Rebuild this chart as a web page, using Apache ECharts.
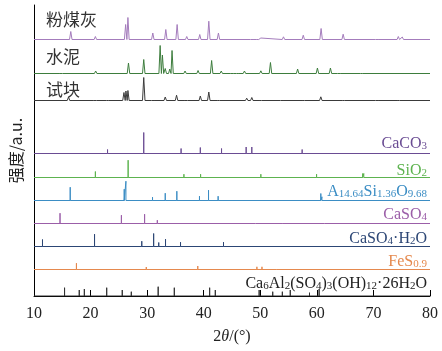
<!DOCTYPE html>
<html>
<head>
<meta charset="utf-8">
<script src="https://cdn.jsdelivr.net/npm/echarts@6/dist/echarts.min.js"></script>
<style>
  html, body { margin: 0; padding: 0; background: #fff; }
  #chart { width: 442px; height: 351px; }
</style>
</head>
<body>
<div id="chart"></div>
<script>
// 数据：[2θ, 峰高]
const xTicks = [10, 20, 30, 40, 50, 60, 70, 80];

const flyAshPeaks = [[16.5, 8], [20.85, 3], [26.2, 15], [26.6, 22], [31.0, 6.5], [33.3, 10], [35.3, 15],
  [37.0, 3], [39.3, 5], [40.9, 18.3], [42.6, 6.5], [48.5, 1], [49.5, 2], [50.1, 1.5], [54.1, 2.7],
  [57.6, 4.3], [60.75, 11], [64.65, 5.3], [70.6, 2], [74.4, 3], [75.1, 2.5]];
const cementPeaks = [[14.8, 1], [20.9, 2.5], [26.7, 10.5], [29.4, 14], [32.3, 28], [32.7, 18.5], [33.2, 5],
  [34.0, 4.5], [34.4, 23], [36.7, 2.5], [39.0, 3], [41.4, 13], [43.1, 2.5], [45.0, 1.5], [46.0, 2],
  [47.2, 2.5], [50.1, 2.7], [51.8, 11], [56.6, 4.5], [60.1, 5.5], [62.4, 5.5], [63.9, 2], [67.9, 1]];
const specimenPeaks = [[16.1, 3.5], [16.5, 2], [20.8, 2], [23.0, 2], [25.9, 8], [26.25, 9.5], [26.6, 10],
  [29.4, 23], [31.0, 1.7], [33.2, 3.5], [35.2, 5.3], [36.9, 1.5], [39.4, 4.5], [40.9, 8.5], [42.6, 2],
  [47.6, 2.3], [48.5, 3], [50.0, 1.5], [53.8, 1.3], [57.6, 1.5], [60.7, 3.7], [64.7, 2], [70.6, 1], [74.4, 1]];

const caco3Sticks = [[23.0, 4], [29.4, 21], [36.0, 5], [39.4, 6], [43.15, 5], [47.5, 6.5], [48.5, 6.5], [57.4, 4]];
const sio2Sticks = [[20.85, 6], [26.64, 17.3], [36.5, 3.3], [39.45, 3.3], [50.1, 3.3], [59.95, 3.3], [68.1, 4], [68.3, 4]];
const mulliteSticks = [[16.4, 13.3], [25.95, 11.3], [26.25, 19.3], [30.95, 3.3], [33.2, 7.3], [35.25, 9.3],
  [39.25, 4.3], [40.85, 10.3], [42.55, 4.3], [60.7, 7], [60.9, 3.7]];
const caso4Sticks = [[14.6, 10.3], [25.45, 8.3], [29.55, 9.3], [31.8, 3.3], [49.2, 1.7], [52.6, 1], [54.0, 1.3], [61.3, 1.7]];
const hydrateSticks = [[11.5, 7], [20.7, 12.3], [29.05, 5.3], [31.15, 13], [32.05, 4], [33.25, 7.3], [35.9, 4.3], [43.5, 4.3]];
const fesSticks = [[17.5, 6.3], [29.85, 2.5], [38.95, 3.5], [49.4, 2.7], [50.3, 2.7], [52.8, 1.7]];
const ettringiteSticks = [[15.4, 8.3], [18.0, 6], [18.9, 7], [22.85, 8.3], [25.6, 6], [27.2, 4.3], [31.95, 9.3],
  [34.8, 8.3], [41.05, 8.3], [42.05, 6], [49.8, 6], [52.2, 4.3], [53.9, 4.3], [55.3, 6], [58.7, 3.3], [60.4, 7]];

// 峰半宽（°）
const W = 0.22;
const FONT = '"Liberation Serif", "Times New Roman", serif';

function peakLine(peaks, base) {
  const pts = [[10, base]];
  peaks.forEach(([t, h]) => { pts.push([t - W, base], [t, base + h], [t + W, base]); });
  pts.push([80, base]);
  return pts;
}

function stickLine(sticks, base) {
  const pts = [[10, base]];
  sticks.forEach(([t, h]) => { pts.push([t, base], [t, base + h], [t, base]); });
  pts.push([80, base]);
  return pts;
}

// 每条谱线的基线偏移（纵轴单位）
const traces = [
  { data: peakLine(flyAshPeaks, 256.5), color: '#a47cbc' },
  { data: peakLine(cementPeaks, 222.5), color: '#3d7d3d' },
  { data: peakLine(specimenPeaks, 195.5), color: '#3a3a3a' },
  { data: stickLine(caco3Sticks, 142.5), color: '#6a4c93' },
  { data: stickLine(sio2Sticks, 118.5), color: '#5db34f' },
  { data: stickLine(mulliteSticks, 95.5), color: '#3b8dc4' },
  { data: stickLine(caso4Sticks, 72.5), color: '#9b5ea8' },
  { data: stickLine(hydrateSticks, 49.5), color: '#2c4675' },
  { data: stickLine(fesSticks, 26.5), color: '#e5894e' },
  { data: stickLine(ettringiteSticks, 0), color: '#333' }
];

const rich = {
  n: { fontSize: 16, fontFamily: FONT, lineHeight: 20, verticalAlign: 'bottom' },
  s: { fontSize: 11, fontFamily: FONT, lineHeight: 10, verticalAlign: 'bottom' }
};

function phaseLabel(text, y, color) {
  return {
    type: 'text', x: 427, y: y, silent: true,
    style: { text: text, rich: rich, fill: color, align: 'right', verticalAlign: 'middle', font: '16px ' + FONT }
  };
}

function nameLabel(text, y) {
  return {
    type: 'text', x: 46, y: y, silent: true,
    style: { text: text, fill: '#333', verticalAlign: 'middle', font: '17px "Noto Sans CJK SC"' }
  };
}

const chart = echarts.init(document.getElementById('chart'), null, { renderer: 'canvas' });

chart.setOption({
  animation: false,
  grid: { left: 34, right: 12, top: 5, bottom: 55 },
  xAxis: {
    type: 'value', min: xTicks[0], max: xTicks[xTicks.length - 1], interval: 10,
    axisLine: { lineStyle: { color: '#000', width: 1 } },
    axisTick: { inside: true, length: 6, lineStyle: { color: '#000' } },
    axisLabel: { fontSize: 16, fontFamily: FONT, color: '#222', margin: 10 },
    splitLine: { show: false },
    name: '2{i|θ}/(°)', nameLocation: 'middle', nameGap: 33,
    nameTextStyle: { fontSize: 16, fontFamily: FONT, color: '#222',
      rich: { i: { fontSize: 16, fontFamily: FONT, fontStyle: 'italic', color: '#222' } } }
  },
  yAxis: {
    type: 'value', min: 0, max: 291,
    axisLine: { show: true, lineStyle: { color: '#000', width: 1 } },
    axisTick: { show: false }, axisLabel: { show: false }, splitLine: { show: false },
    name: '强度/a.u.', nameLocation: 'middle', nameGap: 10, nameRotate: 90,
    nameTextStyle: { fontSize: 16, fontFamily: '"Noto Sans CJK SC", ' + FONT, color: '#222' }
  },
  series: traces.map((t) => ({
    type: 'line', data: t.data, symbol: 'none', silent: true,
    lineStyle: { color: t.color, width: 1 }
  })),
  graphic: [
    nameLabel('粉煤灰', 19.5),
    nameLabel('水泥', 56.5),
    nameLabel('试块', 90),
    phaseLabel('{n|CaCO}{s|3}', 141.5, '#6a4c93'),
    phaseLabel('{n|SiO}{s|2}', 169, '#5db34f'),
    phaseLabel('{n|A}{s|14.64}{n|Si}{s|1.36}{n|O}{s|9.68}', 189.5, '#3b8dc4'),
    phaseLabel('{n|CaSO}{s|4}', 212.5, '#9b5ea8'),
    phaseLabel('{n|CaSO}{s|4}{n|·H}{s|2}{n|O}', 237, '#2c4675'),
    phaseLabel('{n|FeS}{s|0.9}', 260, '#e5894e'),
    phaseLabel('{n|Ca}{s|6}{n|Al}{s|2}{n|(SO}{s|4}{n|)}{s|3}{n|(OH)}{s|12}{n|·26H}{s|2}{n|O}', 282, '#222')
  ]
});

window.addEventListener('resize', () => chart.resize());
</script>
</body>
</html>
